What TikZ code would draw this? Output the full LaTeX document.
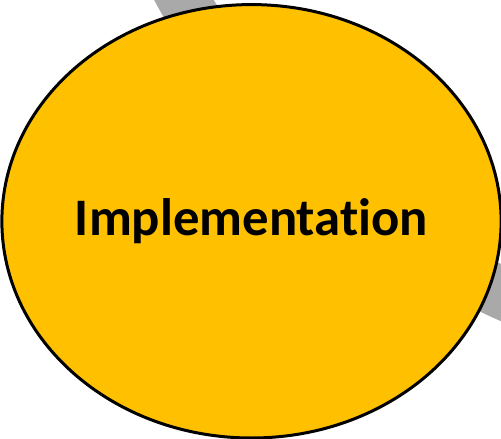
\documentclass[tikz,border=0pt]{standalone}
\usepackage{fontspec}
\setmainfont[Ligatures=CommonOff]{Carlito}
\usetikzlibrary{shapes.geometric}
\definecolor{phasegold}{HTML}{FFC000}
\definecolor{ringgray}{HTML}{A9A9A9}

\begin{document}
\begin{tikzpicture}[
		x=0.02cm, y=0.02cm,
		ring/.style = {draw=ringgray, line width=1.04cm},
		phase/.style = {
			shape=ellipse, draw, line width=0.06cm,
			fill=phasegold, inner sep=0pt,
			minimum width=9.82cm, minimum height=8.67cm,
			font=\bfseries\fontsize{30}{36}\selectfont}]
		\useasboundingbox (0,0) rectangle (501,439);
		% cycle ring behind the phase
		\coordinate (ringc) at (794,782);
		\draw[ring] (ringc) ++(200:700) arc[start angle=200, end angle=262, radius=700];
		\node[phase] (impl) at (251.5,217.7) {Implementation};
	\end{tikzpicture}
\end{document}
